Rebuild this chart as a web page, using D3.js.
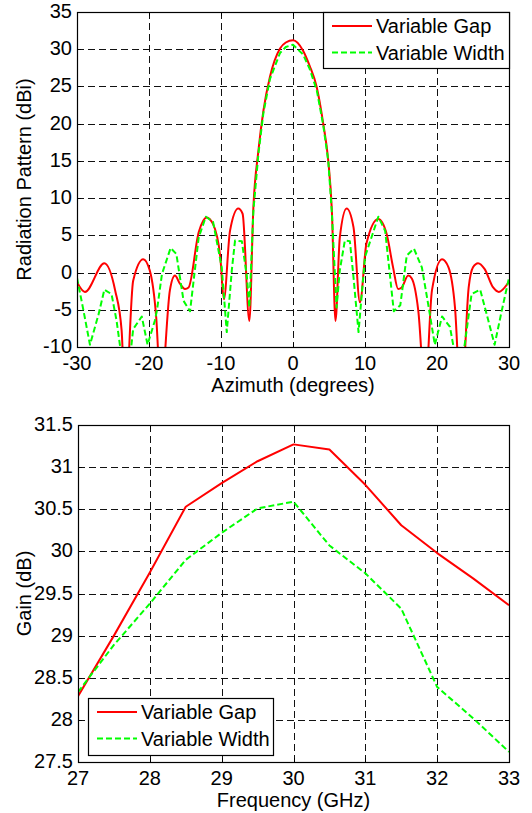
<!DOCTYPE html>
<html>
<head>
<meta charset="utf-8">
<script src="https://cdn.jsdelivr.net/npm/d3@7"></script>
<style>
  body { margin: 0; background: #fff; }
  svg { display: block; font-family: Arial, "Liberation Sans", sans-serif; }
</style>
</head>
<body>
<div id="chart"></div>
<script>
// ---- pattern plot data (azimuth in degrees, level in dBi) ----
const gapAz = [-30, -28.9, -26.2, -24.7, -23.8, -23.3, -22.2, -20.8, -19.9, -19.0, -18.35, -17.1, -16.4, -15.7, -15.0, -14.5,
  -13.1, -12.0, -11.1, -10.1, -9.6, -8.75, -7.6, -7.0, -6.06, -5.5, -4.8, -4.1, -3.2, -1.8, -1.0, 0, 1.4, 2.3, 3.3, 4.2, 4.9, 5.4,
  5.9, 6.5, 7.45, 8.4, 9.3, 10.2, 11.85, 13.0, 13.9, 14.6, 15.1, 16.0, 16.5, 17.4, 18.35, 19.3, 20.7, 21.6, 22.5, 23.35,
  24.4, 25.0, 25.7, 26.6, 27.8, 28.6, 30];
const gapDb = [-1.3, -2.6, 1.25, -2.4, -7.8, -18, -1.1, 1.8, 0.3, -6, -16, -2.4, -0.4, -1.5, -2.2, -2.0,
  5.4, 7.4, 6.5, 2.1, -3.6, 5.6, 8.6, 7.9, -6.5, 8.8, 16.4, 21.8, 26.3, 30.1, 30.9, 31.2, 29.8, 27.8, 24.9, 20, 15, 8.3,
  -6.5, 4.7, 8.6, 6.1, -4.0, 3.9, 7.2, 5.2, 0.7, -2.2, -2.0, -0.4, -0.8, -5.1, -16, -2.4, 1.8, 0.7, -4.7, -18,
  -2.0, 0.7, 1.25, 0.5, -2.0, -2.6, -1.2];

const widthAz = [-30, -29.1, -28.2, -27.0, -26.2, -25.2, -24.5, -24.0, -23.15, -22.2, -21.0, -20.2, -19.2, -18.9, -18.2, -17.0,
  -16.2, -15.2, -14.3, -13.1, -12.1, -11.1, -9.9, -9.2, -8.5, -8.05, -7.1, -6.4, -6.06, -5.5, -4.8, -4.1, -3.2, -1.8, -1.0, 0,
  1.4, 2.3, 3.3, 4.2, 4.9, 5.4, 6.05, 6.5, 7.2, 7.9, 8.4, 9.1, 10.0, 11.85, 12.8, 14.0, 14.9, 15.8, 16.8, 17.9, 18.8, 19.7,
  20.7, 21.8, 22.3, 23.05, 23.8, 24.8, 26.0, 26.9, 28.0, 29.0, 30];
const widthDb = [-0.7, -5.1, -9.7, -5.6, -2.3, -2.9, -6.5, -10, -16, -7.6, -5.9, -9.7, -6.5, -5.1, -0.2, 3.3,
  2.5, -3.8, -5.2, 4.7, 7.5, 6.8, 0.7, -8.0, 0.3, 4.3, 4.2, -0.6, -4.7, 8.3, 16.0, 21.5, 26.0, 29.5, 30.3, 30.6,
  29.3, 27.4, 24.5, 19.8, 15.0, 8.0, -4.7, 0.3, 4.3, 4.2, -0.6, -8.0, 2.1, 7.5, 5.6, -5.2, -4.4, 2.3, 3.2, 0.7, -4.4, -9.7,
  -5.9, -7.3, -10, -16, -10, -2.9, -2.3, -5.6, -9.7, -5.1, -0.7];

const azTicks = [-30, -20, -10, 0, 10, 20, 30];
const dbiTicks = [-10, -5, 0, 5, 10, 15, 20, 25, 30, 35];

// ---- gain plot data ----
const freqGHz = [27, 27.5, 28, 28.5, 29, 29.5, 30, 30.5, 31, 31.5, 32, 32.5, 33];
const gainGap = [28.28, 29.0, 29.75, 30.53, 30.81, 31.07, 31.27, 31.21, 30.79, 30.31, 29.98, 29.68, 29.36];
const gainWidth = [28.33, 28.89, 29.38, 29.9, 30.22, 30.51, 30.59, 30.07, 29.74, 29.32, 28.39, 28.02, 27.62];

const freqTicks = [27, 28, 29, 30, 31, 32, 33];
const gainTicks = [27.5, 28, 28.5, 29, 29.5, 30, 30.5, 31, 31.5];

const seriesNames = ['Variable Gap', 'Variable Width'];

const W = 532, H = 813;
const svg = d3.select('#chart').append('svg').attr('width', W).attr('height', H);

const fontSize = 20;
const red = '#ff0000', green = '#00ff00';

// snap to pixel centres so 1px lines stay crisp
const px = v => Math.round(v) + 0.5;

function drawPanel(opt) {
  const x = d3.scaleLinear().domain(opt.xDomain).range([opt.left, opt.right]);
  const y = d3.scaleLinear().domain(opt.yDomain).range([opt.bottom, opt.top]);
  const g = svg.append('g');

  const clipId = 'clip-' + opt.id;
  g.append('clipPath').attr('id', clipId)
    .append('rect')
    .attr('x', opt.left).attr('y', opt.top)
    .attr('width', opt.right - opt.left).attr('height', opt.bottom - opt.top);

  // grid
  const grid = g.append('g').attr('stroke', '#111').attr('stroke-width', 1)
    .attr('stroke-dasharray', '7,4');
  grid.selectAll('.vg').data(opt.xTicks.slice(1, -1)).join('line')
    .attr('x1', d => px(x(d))).attr('x2', d => px(x(d)))
    .attr('y1', opt.top).attr('y2', opt.bottom);
  grid.selectAll('.hg').data(opt.yTicks.slice(1, -1)).join('line')
    .attr('y1', d => px(y(d))).attr('y2', d => px(y(d)))
    .attr('x1', opt.left).attr('x2', opt.right);

  // inward tick marks on all sides
  const tl = 4;
  const tk = g.append('g').attr('stroke', '#000').attr('stroke-width', 1);
  opt.xTicks.forEach(t => {
    tk.append('line').attr('x1', px(x(t))).attr('x2', px(x(t))).attr('y1', opt.bottom).attr('y2', opt.bottom - tl);
    tk.append('line').attr('x1', px(x(t))).attr('x2', px(x(t))).attr('y1', opt.top).attr('y2', opt.top + tl);
  });
  opt.yTicks.forEach(t => {
    tk.append('line').attr('y1', px(y(t))).attr('y2', px(y(t))).attr('x1', opt.left).attr('x2', opt.left + tl);
    tk.append('line').attr('y1', px(y(t))).attr('y2', px(y(t))).attr('x1', opt.right).attr('x2', opt.right - tl);
  });

  // series
  const lines = g.append('g').attr('clip-path', `url(#${clipId})`);
  opt.series.forEach(s => {
    const pts = s.xs.map((v, i) => [v, s.ys[i]]);
    lines.append('path')
      .datum(pts)
      .attr('fill', 'none')
      .attr('stroke', s.color)
      .attr('stroke-width', 2)
      .attr('stroke-linejoin', 'round')
      .attr('stroke-dasharray', s.dash || null)
      .attr('d', d3.line().x(d => x(d[0])).y(d => y(d[1])).curve(s.curve || d3.curveLinear));
  });

  // frame
  g.append('rect')
    .attr('x', px(opt.left)).attr('y', px(opt.top))
    .attr('width', Math.round(opt.right - opt.left)).attr('height', Math.round(opt.bottom - opt.top))
    .attr('fill', 'none').attr('stroke', '#000').attr('stroke-width', 1.2);

  // tick labels
  g.selectAll('.xl').data(opt.xTicks).join('text')
    .attr('x', d => x(d)).attr('y', opt.bottom + 22.5)
    .attr('text-anchor', 'middle').attr('font-size', fontSize)
    .text(d => d);
  g.selectAll('.yl').data(opt.yTicks).join('text')
    .attr('x', opt.left - 5).attr('y', d => y(d) + 6)
    .attr('text-anchor', 'end').attr('font-size', fontSize)
    .text(d => d);

  // axis titles
  g.append('text')
    .attr('x', (opt.left + opt.right) / 2).attr('y', opt.bottom + 44.5)
    .attr('text-anchor', 'middle').attr('font-size', fontSize)
    .text(opt.xTitle);
  g.append('text')
    .attr('transform', `translate(${opt.yTitleX},${(opt.top + opt.bottom) / 2}) rotate(-90)`)
    .attr('text-anchor', 'middle').attr('font-size', fontSize)
    .text(opt.yTitle);

  // legend
  const L = opt.legend;
  const lg = g.append('g');
  lg.append('rect').attr('x', px(L.x)).attr('y', px(L.y)).attr('width', L.w).attr('height', L.h)
    .attr('fill', '#fff').attr('stroke', '#000').attr('stroke-width', 1.2);
  opt.series.forEach((s, i) => {
    const cy = L.y + 14 + i * 26.5;
    lg.append('line')
      .attr('x1', L.x + 9).attr('x2', L.x + 49).attr('y1', cy).attr('y2', cy)
      .attr('stroke', s.color).attr('stroke-width', 2)
      .attr('stroke-dasharray', s.dash || null);
    lg.append('text')
      .attr('x', L.x + 53).attr('y', cy + 7)
      .attr('font-size', fontSize)
      .text(seriesNames[i]);
  });
}

drawPanel({
  id: 'pattern',
  left: 77, right: 509, top: 12, bottom: 347,
  xDomain: [-30, 30], yDomain: [-10, 35],
  xTicks: azTicks, yTicks: dbiTicks,
  xTitle: 'Azimuth (degrees)', yTitle: 'Radiation Pattern (dBi)', yTitleX: 31,
  series: [
    { xs: gapAz, ys: gapDb, color: red, curve: d3.curveMonotoneX },
    { xs: widthAz, ys: widthDb, color: green, dash: '6,3' }
  ],
  legend: { x: 323, y: 12, w: 186, h: 56 }
});

drawPanel({
  id: 'gain',
  left: 78, right: 509, top: 425, bottom: 762,
  xDomain: [27, 33], yDomain: [27.5, 31.5],
  xTicks: freqTicks, yTicks: gainTicks,
  xTitle: 'Frequency (GHz)', yTitle: 'Gain (dB)', yTitleX: 31,
  series: [
    { xs: freqGHz, ys: gainGap, color: red },
    { xs: freqGHz, ys: gainWidth, color: green, dash: '6,3' }
  ],
  legend: { x: 88, y: 698, w: 185, h: 57 }
});
</script>
</body>
</html>
